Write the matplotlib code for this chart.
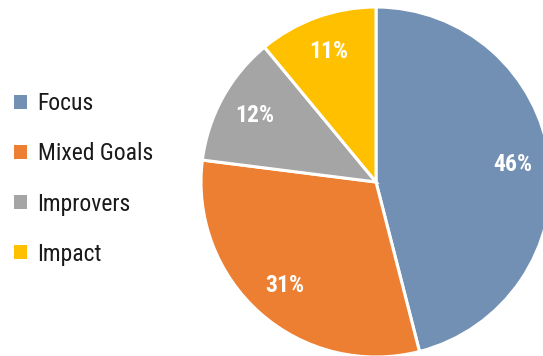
import matplotlib
matplotlib.use("Agg")
import matplotlib.pyplot as plt
from matplotlib import font_manager

categories = ["Focus", "Mixed Goals", "Improvers", "Impact"]
values = [46, 31, 12, 11]
colors = ["#7290B4", "#ED7F33", "#A5A5A5", "#FFC000"]

names = {f.name for f in font_manager.fontManager.ttflist}
fam = next((n for n in ["Roboto Condensed", "Liberation Sans Narrow", "Arial Narrow", "Liberation Sans"]
            if n in names), "DejaVu Sans")
plt.rcParams["font.family"] = [fam, "DejaVu Sans"]

W, H = 543, 356
fig = plt.figure(figsize=(W / 100, H / 100), dpi=100)
cx, cy, r = 376, 182, 175
ax = fig.add_axes([(cx - r) / W, (H - cy - r) / H, 2 * r / W, 2 * r / H])
wedges, texts, autotexts = ax.pie(
    values, colors=colors, startangle=90, counterclock=False, radius=1,
    autopct=lambda p: f"{p:.0f}%", pctdistance=0.79,
    wedgeprops=dict(edgecolor="white", linewidth=2.2),
    textprops=dict(color="white", fontsize=17, fontweight="bold"),
)
ax.set_xlim(-1, 1)
ax.set_ylim(-1, 1)
ax.axis("off")

leg = fig.legend(
    wedges, categories, loc="center left", bbox_to_anchor=(14 / W, (H - 179) / H),
    frameon=False, fontsize=17, handlelength=0.55, handleheight=0.55,
    handletextpad=0.45, labelspacing=1.15, borderaxespad=0.0, borderpad=0.0,
)
for h in leg.legend_handles:
    h.set_edgecolor("none")
    h.set_linewidth(0)
for t in leg.get_texts():
    t.set_color("#1a1a1a")

fig.savefig("out.png", dpi=100)
